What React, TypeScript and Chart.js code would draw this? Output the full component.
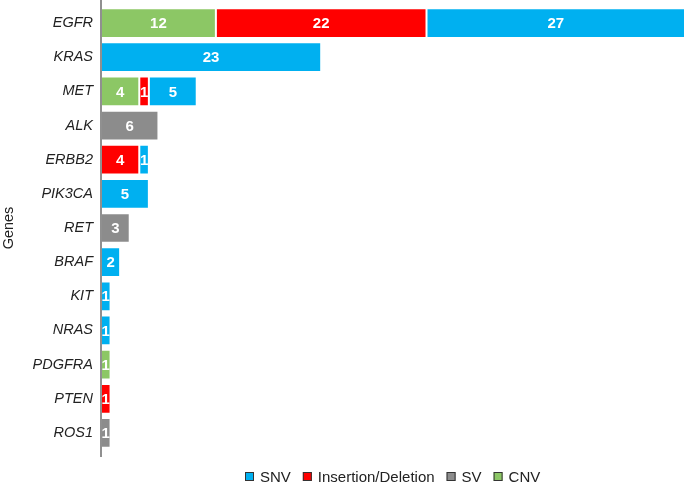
import React, { useEffect, useRef } from "react";
import { Chart, registerables } from "chart.js";

Chart.register(...registerables);

const genes = ["EGFR", "KRAS", "MET", "ALK", "ERBB2", "PIK3CA", "RET", "BRAF", "KIT", "NRAS", "PDGFRA", "PTEN", "ROS1"];
const cnv = [12, 0, 4, 0, 0, 0, 0, 0, 0, 0, 1, 0, 0];
const indel = [22, 0, 1, 0, 4, 0, 0, 0, 0, 0, 0, 1, 0];
const snv = [27, 23, 5, 0, 1, 5, 0, 2, 1, 1, 0, 0, 0];
const sv = [0, 0, 0, 6, 0, 0, 3, 0, 0, 0, 0, 0, 1];
const legendOrder = ["SNV", "Insertion/Deletion", "SV", "CNV"];

const COLORS: Record<string, string> = {
  SNV: "#00B0F0",
  "Insertion/Deletion": "#FF0000",
  SV: "#8C8C8C",
  CNV: "#8CC765",
};

const FONT = "'Liberation Sans', Arial, sans-serif";

export default function App() {
  const ref = useRef<HTMLCanvasElement | null>(null);
  useEffect(() => {
    document.body.style.margin = "0";
    const ctx = ref.current!.getContext("2d")!;
    const mk = (label: string, data: number[]) => ({
      label,
      data: data.map((v) => (v === 0 ? null : v)),
      backgroundColor: COLORS[label],
      borderColor: "rgba(255,255,255,0.7)",
      borderWidth: 1,
      borderSkipped: false,
      barPercentage: 0.87,
      categoryPercentage: 1,
    });

    const overlay = {
      id: "overlay",
      afterDatasetsDraw(chart: any) {
        const c = chart.ctx;
        c.save();
        c.fillStyle = "#ffffff";
        c.font = `bold 15px ${FONT}`;
        c.textAlign = "center";
        c.textBaseline = "middle";
        chart.data.datasets.forEach((ds: any, i: number) => {
          const meta = chart.getDatasetMeta(i);
          meta.data.forEach((el: any, j: number) => {
            const v = ds.data[j];
            if (v == null) return;
            const p = el.getProps(["x", "y", "base"], true);
            c.fillText(String(v), (p.x + p.base) / 2, p.y + 1);
          });
        });
        // axis line
        const left = chart.chartArea.left;
        c.strokeStyle = "#6b6b6b";
        c.lineWidth = 1.5;
        c.beginPath();
        c.moveTo(left, 0);
        c.lineTo(left, 457);
        c.stroke();
        // legend
        c.font = `15px ${FONT}`;
        c.textAlign = "left";
        let x = 245;
        const y = 477;
        legendOrder.forEach((lab) => {
          c.fillStyle = COLORS[lab];
          c.fillRect(x, y - 5, 9, 9);
          c.strokeStyle = "#333";
          c.lineWidth = 1;
          c.strokeRect(x + 0.5, y - 4.5, 8, 8);
          c.fillStyle = "#222";
          c.fillText(lab, x + 15, y + 1);
          x += 15 + c.measureText(lab).width + 12;
        });
        c.restore();
      },
    };

    const chart = new Chart(ctx, {
      type: "bar",
      data: {
        labels: genes,
        datasets: [mk("CNV", cnv), mk("Insertion/Deletion", indel), mk("SNV", snv), mk("SV", sv)],
      },
      options: {
        indexAxis: "y",
        animation: false,
        responsive: false,
        maintainAspectRatio: false,
        layout: { padding: { top: 6, bottom: 34, right: 0, left: 0 } },
        plugins: { legend: { display: false }, tooltip: { enabled: false } },
        scales: {
          x: { stacked: true, display: false, min: 0, max: 61 },
          y: {
            stacked: true,
            grid: { display: false, drawTicks: false },
            border: { display: false },
            ticks: { color: "#222", font: { family: FONT, size: 14.5, style: "italic" }, padding: 8 },
            title: { display: true, text: "Genes", color: "#222", font: { family: FONT, size: 14.5 }, padding: { top: 0, bottom: 0 } },
            afterFit: (s: any) => {
              s.width = 101;
              s.paddingTop = 0;
              s.paddingBottom = 0;
            },
          },
        },
      },
      plugins: [overlay],
    });
    return () => chart.destroy();
  }, []);
  return (
    <div style={{ width: 685, height: 484 }}>
      <canvas ref={ref} width={685} height={484} style={{ display: "block" }} />
    </div>
  );
}
